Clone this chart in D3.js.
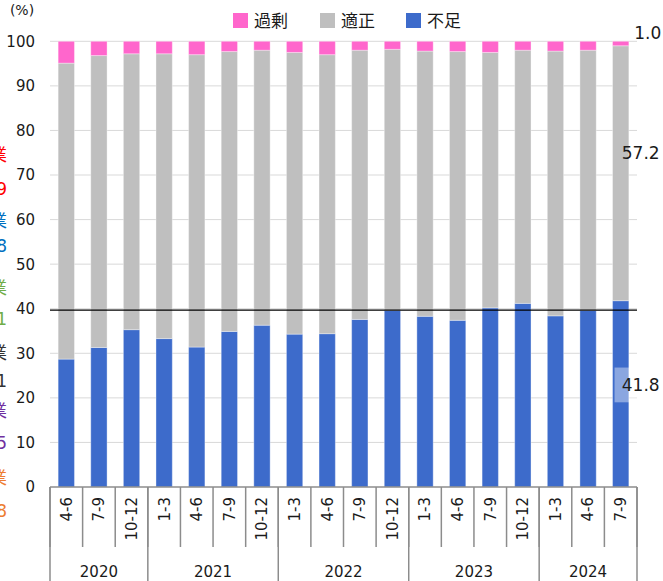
<!DOCTYPE html>
<html>
<head>
<meta charset="utf-8">
<script src="https://cdn.jsdelivr.net/npm/d3@7"></script>
<style>
  body { margin: 0; background: #fff; }
  svg text { font-family: "DejaVu Sans", "Noto Sans CJK JP", sans-serif; fill: #1a1a1a; }
</style>
</head>
<body>
<div id="chart"></div>
<script>
// quarters and years
const quarters = ["4-6", "7-9", "10-12",
                  "1-3", "4-6", "7-9", "10-12",
                  "1-3", "4-6", "7-9", "10-12",
                  "1-3", "4-6", "7-9", "10-12",
                  "1-3", "4-6", "7-9"];
const years = ["2020", "2021", "2022", "2023", "2024"];
const quartersPerYear = [3, 4, 4, 4, 3];

// series (%), stacked bottom to top: shortage, adequate, excess
const shortage = [28.7, 31.3, 35.3, 33.3, 31.4, 34.9, 36.3, 34.3, 34.4, 37.6, 39.6, 38.3, 37.4, 40.2, 41.2, 38.4, 39.6, 41.8];
const adequate = [66.4, 65.5, 61.9, 63.9, 65.6, 62.8, 61.7, 63.2, 62.6, 60.4, 58.6, 59.5, 60.3, 57.3, 56.8, 59.4, 58.4, 57.2];
const excess   = [4.9, 3.2, 2.8, 2.8, 3.0, 2.3, 2.0, 2.5, 3.0, 2.0, 1.8, 2.2, 2.3, 2.5, 2.0, 2.2, 2.0, 1.0];

const seriesNames = ["過剰", "適正", "不足"];
const yTicks = [0, 10, 20, 30, 40, 50, 60, 70, 80, 90, 100];
const refLine = 39.7;

// clipped text on the left edge of the source image
const edgeText = [
  {t: "業", c: "#ff0000", v: 74.6}, {t: "9", c: "#ff0000", v: 67.0},
  {t: "業", c: "#0070c0", v: 59.6}, {t: "8", c: "#0070c0", v: 54.0},
  {t: "業", c: "#70ad47", v: 44.6}, {t: "1", c: "#70ad47", v: 37.7},
  {t: "業", c: "#333333", v: 30.1}, {t: "1", c: "#333333", v: 23.8},
  {t: "業", c: "#7030a0", v: 17.1}, {t: "5", c: "#7030a0", v: 9.9},
  {t: "業", c: "#ed7d31", v: 2.0},  {t: "8", c: "#ed7d31", v: -5.4}
];

const colors = {"過剰": "#ff66cc", "適正": "#bfbfbf", "不足": "#3d6bcb"};

const width = 663, height = 581;
const margin = {top: 41.3, left: 50, right: 26, bottom: 94};

const svg = d3.select("#chart").append("svg")
    .attr("width", width)
    .attr("height", height);

const x = d3.scaleBand()
    .domain(d3.range(quarters.length))
    .range([margin.left, width - margin.right])
    .paddingInner(0.5)
    .paddingOuter(0.25);

const y = d3.scaleLinear()
    .domain([0, 100])
    .range([height - margin.bottom, margin.top]);

// gridlines
svg.append("g").selectAll("line")
    .data(yTicks.filter(d => d > 0))
    .join("line")
    .attr("x1", margin.left).attr("x2", width - margin.right)
    .attr("y1", d => y(d)).attr("y2", d => y(d))
    .attr("stroke", "#d9d9d9").attr("stroke-width", 1);

// y labels
svg.append("g").selectAll("text")
    .data(yTicks)
    .join("text")
    .attr("x", 35).attr("y", d => y(d))
    .attr("dy", "0.36em")
    .attr("text-anchor", "end")
    .style("font-size", "15px")
    .text(d => d);

svg.append("text")
    .attr("x", 22).attr("y", 15)
    .attr("text-anchor", "middle")
    .style("font-size", "14px")
    .text("(%)");

svg.append("g").selectAll("text")
    .data(edgeText)
    .join("text")
    .attr("x", 7).attr("y", d => y(d.v))
    .attr("dy", "0.36em")
    .attr("text-anchor", "end")
    .style("font-size", "17px")
    .style("fill", d => d.c)
    .text(d => d.t);

// stacked bars
const rows = quarters.map((q, i) => ({i: i, "不足": shortage[i], "適正": adequate[i], "過剰": excess[i]}));
const stack = d3.stack().keys(["不足", "適正", "過剰"]);
const layers = stack(rows);

svg.append("g").selectAll("g")
    .data(layers)
    .join("g")
    .attr("fill", d => colors[d.key])
    .selectAll("rect")
    .data(d => d)
    .join("rect")
    .attr("x", d => x(d.data.i))
    .attr("width", x.bandwidth())
    .attr("y", d => y(d[1]))
    .attr("height", d => y(d[0]) - y(d[1]))
    .attr("stroke", "rgba(255,255,255,0.35)")
    .attr("stroke-width", 1);

// reference line
svg.append("line")
    .attr("x1", margin.left).attr("x2", width - margin.right)
    .attr("y1", y(refLine)).attr("y2", y(refLine))
    .attr("stroke", "#000").attr("stroke-width", 1.3);

// category axis
const axisY = y(0);
const step = x.step();
const x0 = margin.left;
svg.append("line")
    .attr("x1", x0).attr("x2", width - margin.right)
    .attr("y1", axisY).attr("y2", axisY)
    .attr("stroke", "#8c8c8c").attr("stroke-width", 1.5);

svg.append("g").selectAll("line")
    .data(d3.range(quarters.length + 1))
    .join("line")
    .attr("x1", i => x0 + i * step).attr("x2", i => x0 + i * step)
    .attr("y1", axisY).attr("y2", axisY + 60)
    .attr("stroke", "#8c8c8c").attr("stroke-width", 1.5);

svg.append("g").selectAll("text")
    .data(quarters)
    .join("text")
    .attr("transform", (d, i) => "translate(" + (x(i) + x.bandwidth() / 2) + "," + (axisY + 10) + ") rotate(-90)")
    .attr("dy", "0.36em")
    .attr("text-anchor", "end")
    .style("font-size", "15px")
    .text(d => d);

let start = 0;
const groups = years.map((yr, k) => {
    const g = {year: yr, from: start, to: start + quartersPerYear[k]};
    start += quartersPerYear[k];
    return g;
});

svg.append("g").selectAll("line")
    .data([0].concat(groups.map(g => g.to)))
    .join("line")
    .attr("x1", i => x0 + i * step).attr("x2", i => x0 + i * step)
    .attr("y1", axisY).attr("y2", height)
    .attr("stroke", "#8c8c8c").attr("stroke-width", 1.5);

svg.append("g").selectAll("text")
    .data(groups)
    .join("text")
    .attr("x", g => x0 + (g.from + g.to) / 2 * step)
    .attr("y", 572)
    .attr("dy", "0.36em")
    .attr("text-anchor", "middle")
    .style("font-size", "15px")
    .text(g => g.year);

// value labels for latest quarter
const last = quarters.length - 1;
const lx = x(last) + x.bandwidth() / 2 + 20;
svg.append("rect")
    .attr("x", x(last) + 2).attr("y", y(26.8))
    .attr("width", 46).attr("height", y(19.0) - y(26.8))
    .attr("fill", "rgba(255,255,255,0.4)");
const lastLabels = [
    {v: 22.9, t: shortage[last].toFixed(1)},
    {v: 74.9, t: adequate[last].toFixed(1)},
    {v: 101.9, t: excess[last].toFixed(1)}
];
svg.append("g").selectAll("text")
    .data(lastLabels)
    .join("text")
    .attr("x", (d, i) => i === 2 ? lx + 7 : lx)
    .attr("y", d => y(d.v))
    .attr("dy", "0.36em")
    .attr("text-anchor", "middle")
    .style("font-size", "17px")
    .text(d => d.t);

// legend
const legendX = [233, 320, 406];
const legend = svg.append("g").selectAll("g")
    .data(seriesNames)
    .join("g")
    .attr("transform", (d, i) => "translate(" + legendX[i] + ",13)");
legend.append("rect")
    .attr("width", 15).attr("height", 15)
    .attr("fill", d => colors[d]);
legend.append("text")
    .attr("x", 21).attr("y", 8)
    .attr("dy", "0.36em")
    .style("font-size", "17px")
    .text(d => d);
</script>
</body>
</html>
